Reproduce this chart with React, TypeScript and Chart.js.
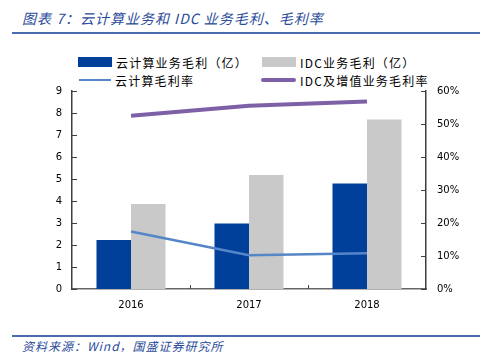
import React, { useEffect, useRef } from "react";
import { Chart, registerables } from "chart.js";

Chart.register(...registerables);

const categories = ["2016", "2017", "2018"];
const cloudProfit = [2.23, 2.98, 4.8];
const idcProfit = [3.86, 5.18, 7.71];
const cloudMargin = [17.4, 10.2, 10.8];
const idcMargin = [52.5, 55.5, 56.8];
const leftTicks = [0, 1, 2, 3, 4, 5, 6, 7, 8, 9];
const rightTicks = [0, 10, 20, 30, 40, 50, 60];

const C_BLUE = "#00409A";
const C_GREY = "#C9C9C9";
const C_LBLUE = "#5586C8";
const C_PURPLE = "#7E60A7";
const C_TITLE = "#2B4C9B";
const CJK = '"Noto Sans CJK SC", "Noto Sans", sans-serif';
const NUMF = '"DejaVu Sans", sans-serif';

const innerTicks = {
  id: "innerTicks",
  afterDraw(chart: any) {
    const ctx = chart.ctx;
    const { y, y1, x } = chart.scales;
    const area = chart.chartArea;
    ctx.save();
    ctx.strokeStyle = "#404040";
    ctx.lineWidth = 1;
    ctx.beginPath();
    leftTicks.forEach((v) => {
      const py = Math.round(y.getPixelForValue(v)) + 0.5;
      ctx.moveTo(area.left, py);
      ctx.lineTo(area.left + 5, py);
    });
    rightTicks.forEach((v) => {
      const py = Math.round(y1.getPixelForValue(v)) + 0.5;
      ctx.moveTo(area.right, py);
      ctx.lineTo(area.right - 5, py);
    });
    for (let i = 1; i < categories.length; i++) {
      const px = Math.round((x.getPixelForValue(i - 1) + x.getPixelForValue(i)) / 2) + 0.5;
      ctx.moveTo(px, area.bottom);
      ctx.lineTo(px, area.bottom - 4);
    }
    ctx.stroke();
    ctx.restore();
  },
};

export default function App() {
  const ref = useRef<HTMLCanvasElement | null>(null);
  useEffect(() => {
    if (!ref.current) return;
    const chart = new Chart(ref.current, {
      type: "bar",
      data: {
        labels: categories,
        datasets: [
          {
            type: "line",
            label: "云计算毛利率",
            data: cloudMargin,
            yAxisID: "y1",
            borderColor: C_LBLUE,
            backgroundColor: C_LBLUE,
            borderWidth: 2.5,
            pointRadius: 0,
            tension: 0,
            order: 0,
          },
          {
            type: "line",
            label: "IDC及增值业务毛利率",
            data: idcMargin,
            yAxisID: "y1",
            borderColor: C_PURPLE,
            backgroundColor: C_PURPLE,
            borderWidth: 4,
            pointRadius: 0,
            tension: 0,
            order: 0,
          },
          {
            type: "bar",
            label: "云计算业务毛利（亿）",
            data: cloudProfit,
            yAxisID: "y",
            backgroundColor: C_BLUE,
            barPercentage: 1,
            categoryPercentage: 0.585,
            order: 1,
          },
          {
            type: "bar",
            label: "IDC业务毛利（亿）",
            data: idcProfit,
            yAxisID: "y",
            backgroundColor: C_GREY,
            barPercentage: 1,
            categoryPercentage: 0.585,
            order: 1,
          },
        ] as any,
      },
      options: {
        animation: false,
        responsive: false,
        maintainAspectRatio: false,
        layout: { padding: { top: 11, left: 0, right: 0, bottom: 0 } },
        plugins: { legend: { display: false }, tooltip: { enabled: false } },
        scales: {
          x: {
            grid: { display: false, drawTicks: false },
            border: { display: true, color: "#666666", width: 1.5 },
            ticks: { font: { family: NUMF, size: 10 }, color: "#000", padding: 10 },
            afterFit: (s: any) => { s.height = 31; },
          },
          y: {
            position: "left",
            min: 0,
            max: 9,
            grid: { display: false, drawOnChartArea: false, drawTicks: true, tickLength: 8, tickColor: "rgba(0,0,0,0)" },
            border: { display: true, color: "#404040", width: 1.5 },
            ticks: { stepSize: 1, font: { family: NUMF, size: 10 }, color: "#000", padding: 2 },
            afterFit: (s: any) => { s.width = 72; },
          },
          y1: {
            position: "right",
            min: 0,
            max: 60,
            grid: { display: false, drawOnChartArea: false, drawTicks: true, tickLength: 9, tickColor: "rgba(0,0,0,0)" },
            border: { display: true, color: "#404040", width: 1.5 },
            ticks: {
              stepSize: 10,
              font: { family: NUMF, size: 10 },
              color: "#000",
              padding: 2,
              callback: (v: any) => v + "%",
            },
            afterFit: (s: any) => { s.width = 65; },
          },
        },
      } as any,
      plugins: [innerTicks],
    });
    return () => chart.destroy();
  }, []);

  const legendItem = (left: number, top: number, mark: React.ReactNode, text: string) => (
    <div style={{ position: "absolute", left, top, height: 18, display: "flex", alignItems: "center" }}>
      {mark}
      <span style={{ fontFamily: CJK, fontSize: 12, color: "#000", whiteSpace: "nowrap", marginLeft: 4, letterSpacing: 1.2 }}>{text}</span>
    </div>
  );

  return (
    <div style={{ position: "fixed", left: 0, top: 0, width: 491, height: 364, background: "#fff", overflow: "hidden" }}>
      <div
        style={{
          position: "absolute",
          left: 22,
          top: 8,
          fontFamily: CJK,
          fontStyle: "italic",
          fontSize: 14,
          color: C_TITLE,
          whiteSpace: "nowrap",
          lineHeight: "20px",
          letterSpacing: 1,
        }}
      >
        图表 7：云计算业务和 IDC 业务毛利、毛利率
      </div>
      <div style={{ position: "absolute", left: 12, top: 32, width: 468, height: 2, background: "#4A6BAE" }} />
      {legendItem(78, 53, <div style={{ width: 34, height: 10, background: C_BLUE }} />, "云计算业务毛利（亿）")}
      {legendItem(262, 53, <div style={{ width: 34, height: 10, background: C_GREY }} />, "IDC业务毛利（亿）")}
      {legendItem(79, 71, <div style={{ width: 32, height: 2.5, background: C_LBLUE }} />, "云计算毛利率")}
      {legendItem(261, 71, <div style={{ width: 35, height: 4, background: C_PURPLE, borderRadius: 2 }} />, "IDC及增值业务毛利率")}
      <canvas ref={ref} width={491} height={240} style={{ position: "absolute", left: 0, top: 80, width: 491, height: 240 }} />
      <div style={{ position: "absolute", left: 12, top: 335, width: 468, height: 2, background: "#4A6BAE" }} />
      <div
        style={{
          position: "absolute",
          left: 22,
          top: 337,
          fontFamily: CJK,
          fontStyle: "italic",
          fontSize: 12,
          color: C_TITLE,
          whiteSpace: "nowrap",
          lineHeight: "18px",
          letterSpacing: 1,
        }}
      >
        资料来源：Wind，国盛证券研究所
      </div>
    </div>
  );
}
